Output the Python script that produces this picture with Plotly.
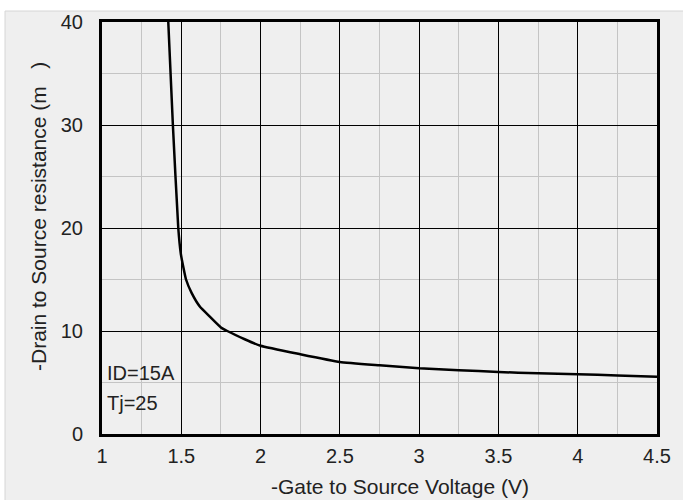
import plotly.graph_objects as go

# Data
vgs = [1.418, 1.447, 1.481, 1.497, 1.513, 1.53, 1.565, 1.618, 1.68, 1.75, 1.79,
       1.9, 2.0, 2.25, 2.5, 2.75, 3.0, 3.25, 3.5, 3.75, 4.0, 4.25, 4.5]
rds = [40, 30, 20, 17.5, 16.2, 15.0, 13.7, 12.35, 11.4, 10.35, 10.0,
       9.2, 8.57, 7.75, 7.0, 6.67, 6.38, 6.2, 6.02, 5.89, 5.8, 5.68, 5.56]

x_ticks = [1, 1.5, 2, 2.5, 3, 3.5, 4, 4.5]
x_ticklabels = ["1", "1.5", "2", "2.5", "3", "3.5", "4", "4.5"]
y_ticks = [0, 10, 20, 30, 40]

x_title = "-Gate to Source Voltage (V)"
y_title = "-Drain to Source resistance (m\u00a0\u00a0\u00a0)"
notes = ["ID=15A", "Tj=25"]

FONT = "Liberation Sans, Arial, sans-serif"
BG = "#efefef"

fig = go.Figure()
fig.add_trace(go.Scatter(x=vgs, y=rds, mode="lines",
                         line=dict(color="black", width=2.5, shape="spline", smoothing=0.4),
                         hoverinfo="skip", showlegend=False))

fig.update_layout(
    width=683, height=500,
    margin=dict(l=102, r=26, t=22, b=66),
    paper_bgcolor="white",
    plot_bgcolor=BG,
    font=dict(family=FONT, size=20, color="#222222"),
    shapes=[dict(type="rect", xref="paper", yref="paper",
                 x0=(5 - 102) / 555, x1=(700 - 102) / 555,
                 y0=(434 - 520) / 412, y1=(434 - 11) / 412,
                 fillcolor=BG, line=dict(color="#d6d6d6", width=1), layer="below")],
    xaxis=dict(range=[1, 4.5], tickvals=x_ticks, ticktext=x_ticklabels,
               showgrid=True, gridcolor="black", gridwidth=1.3,
               minor=dict(dtick=0.25, tick0=1, showgrid=True, gridcolor="#c4c4c4", gridwidth=1),
               showline=True, linecolor="black", linewidth=3, mirror=True,
               zeroline=False, ticks="", ticklabelstandoff=2,
               tickfont=dict(size=20)),
    yaxis=dict(range=[0, 40], tickvals=y_ticks,
               showgrid=True, gridcolor="black", gridwidth=1.3,
               minor=dict(dtick=5, tick0=0, showgrid=True, gridcolor="#c4c4c4", gridwidth=1),
               showline=True, linecolor="black", linewidth=3, mirror=True,
               zeroline=False, ticks="", ticklabelstandoff=12,
               tickfont=dict(size=20)),
    annotations=[
        dict(text=x_title, xref="paper", yref="paper", x=(400.5 - 102) / 555, y=(434 - 486) / 412,
             showarrow=False, xanchor="center", yanchor="middle", font=dict(size=21)),
        dict(text=y_title, xref="paper", yref="paper", x=(38.5 - 102) / 555, y=(434 - 216.5) / 412,
             showarrow=False, xanchor="center", yanchor="middle", textangle=-90, font=dict(size=21)),
        dict(text=notes[0], xref="paper", yref="paper", x=(105 - 102) / 555, y=(434 - 373) / 412,
             showarrow=False, xanchor="left", yanchor="middle", font=dict(size=20)),
        dict(text=notes[1], xref="paper", yref="paper", x=(105 - 102) / 555, y=(434 - 403) / 412,
             showarrow=False, xanchor="left", yanchor="middle", font=dict(size=20)),
    ],
)

fig.write_html("out.html", config={"displayModeBar": False},
               post_script="document.body.style.margin='0';document.body.style.overflow='hidden';")
